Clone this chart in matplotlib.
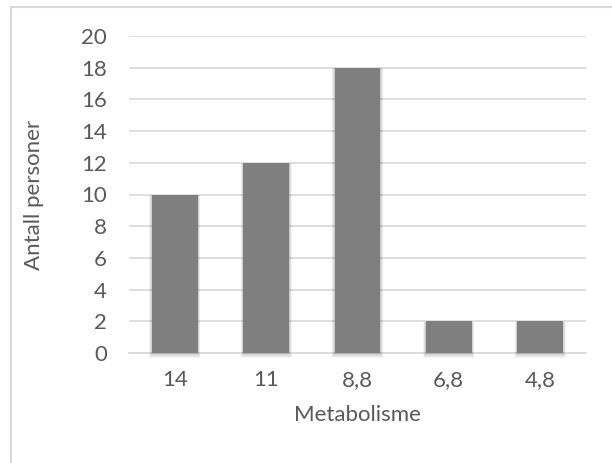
import matplotlib
matplotlib.use("Agg")
import matplotlib.pyplot as plt
from matplotlib.patches import Rectangle

categories = ["14", "11", "8,8", "6,8", "4,8"]
counts = [10, 12, 18, 2, 2]
y_ticks = [0, 2, 4, 6, 8, 10, 12, 14, 16, 18, 20]

plt.rcParams["font.family"] = ["Lato", "DejaVu Sans"]
text_color = "#595959"
grid_color = "#d9d9d9"
bar_color = "#7f7f7f"
fs = 16

W, H = 612, 463
fig = plt.figure(figsize=(W / 100, H / 100), dpi=100)
fig.patch.set_facecolor("white")

# chart area border
fig.patches.append(Rectangle((11 / W, -0.1), 1.2, 1 - 7 / H + 0.1,
                             transform=fig.transFigure, fill=False,
                             edgecolor=grid_color, linewidth=1.5))

ax_left, ax_right, ax_top, ax_bottom = 129.3, 585.7, 36, 353
ax = fig.add_axes([ax_left / W, 1 - ax_bottom / H,
                   (ax_right - ax_left) / W, (ax_bottom - ax_top) / H])
x = list(range(len(categories)))

# soft shadow under each bar
for k in range(1, 6):
    ax.bar(x, [c + 0.05 * k for c in counts], width=0.5 + 0.012 * k,
           bottom=-0.06 * k, color="black", alpha=0.045, zorder=2,
           linewidth=0, clip_on=False)
ax.bar(x, counts, width=0.5, color=bar_color, zorder=3, linewidth=0)

ax.set_xlim(-0.5, len(categories) - 0.5)
ax.set_ylim(0, 20)
ax.set_yticks(y_ticks)
ax.set_xticks(x)
ax.set_xticklabels(categories)
ax.yaxis.grid(True, color=grid_color, linewidth=1.2, zorder=0)
ax.set_axisbelow(True)
for s in ["top", "right", "left"]:
    ax.spines[s].set_visible(False)
ax.spines["bottom"].set_color(grid_color)
ax.spines["bottom"].set_linewidth(1.2)
ax.spines["bottom"].set_zorder(1)
ax.tick_params(axis="both", length=0, labelsize=fs, colors=text_color)
ax.tick_params(axis="y", pad=16)
ax.tick_params(axis="x", pad=12)

ax.set_ylabel("Antall personer", fontsize=fs, color=text_color, va="center")
ax.yaxis.set_label_coords((34 - ax_left) / (ax_right - ax_left), 0.5)
ax.set_xlabel("Metabolisme", fontsize=fs, color=text_color, va="center")
ax.xaxis.set_label_coords(0.5, (ax_bottom - 415) / (ax_bottom - ax_top))

fig.savefig("out.png", dpi=100, facecolor="white")
